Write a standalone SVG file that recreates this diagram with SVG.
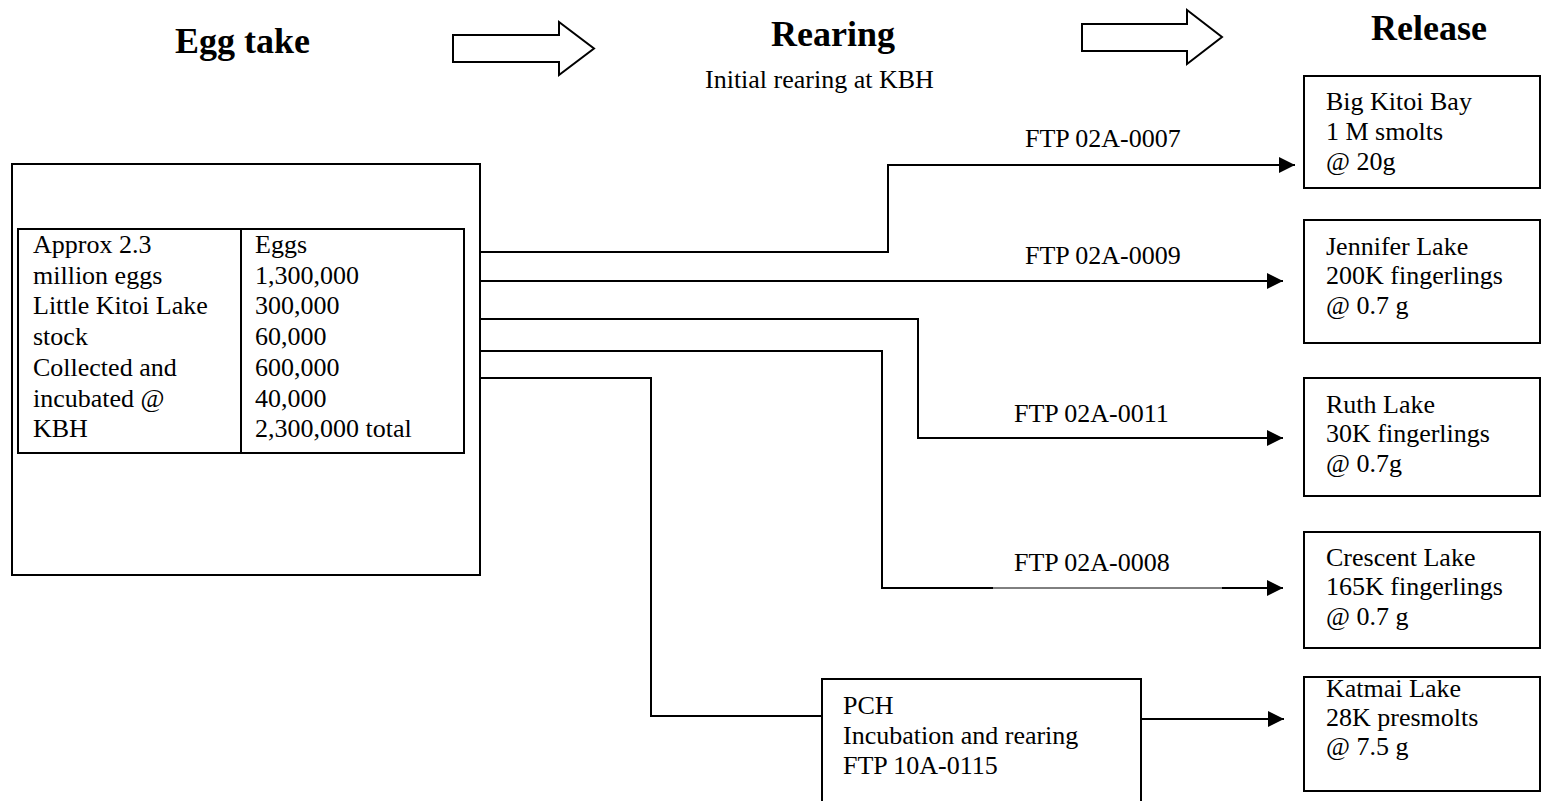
<svg xmlns="http://www.w3.org/2000/svg" width="1542" height="801" viewBox="0 0 1542 801">
<style>
text{font-family:"Liberation Serif","Times New Roman",serif;font-size:26px;fill:#000}
.h{font-weight:bold;font-size:36px}
.box{fill:#fff;stroke:#000;stroke-width:2}
.big{fill:#fff;stroke:#000;stroke-width:2}
.con{fill:none;stroke:#000;stroke-width:2}
.thin{fill:none;stroke:#000;stroke-width:1}
</style>
<defs>
<marker id="ah" markerUnits="userSpaceOnUse" markerWidth="16" markerHeight="16" refX="16" refY="8" orient="auto" viewBox="0 0 16 16">
<path d="M0,0 L16,8 L0,16 Z" fill="#000"/>
</marker>
</defs>
<rect width="1542" height="801" fill="#fff"/>
<g id="headers">
<text class="h" x="175" y="53">Egg take</text>
<text class="h" x="771" y="46">Rearing</text>
<text x="705" y="88">Initial rearing at KBH</text>
<text class="h" x="1371" y="40">Release</text>
<polygon class="big" points="453,35 559,35 559,22 594,48.5 559,75 559,62 453,62"/>
<polygon class="big" points="1082,24 1187,24 1187,10 1222,37 1187,64 1187,51 1082,51"/>
</g>
<g id="connectors">
<path class="con" d="M480,252 H888 V165 H1295" marker-end="url(#ah)"/>
<path class="con" d="M480,281 H1283" marker-end="url(#ah)"/>
<path class="con" d="M480,319 H918 V438 H1283" marker-end="url(#ah)"/>
<path class="con" d="M480,351 H882 V588 H993"/>
<path class="thin" d="M993,588 H1222"/>
<path class="con" d="M1222,588 H1283" marker-end="url(#ah)"/>
<path class="con" d="M480,378 H651 V716 H822"/>
<path class="con" d="M1141,719 H1284" marker-end="url(#ah)"/>
<text x="1025" y="147">FTP 02A-0007</text>
<text x="1025" y="264">FTP 02A-0009</text>
<text x="1014" y="422">FTP 02A-0011</text>
<text x="1014" y="571">FTP 02A-0008</text>
</g>
<g id="eggtake">
<rect class="box" x="12" y="164" width="468" height="411"/>
<rect class="box" x="18" y="229" width="446" height="224"/>
<line x1="241" y1="229" x2="241" y2="453" stroke="#000" stroke-width="2"/>
<text x="33" y="253">Approx 2.3</text>
<text x="33" y="284">million eggs</text>
<text x="33" y="314">Little Kitoi Lake</text>
<text x="33" y="345">stock</text>
<text x="33" y="376">Collected and</text>
<text x="33" y="407">incubated @</text>
<text x="33" y="437">KBH</text>
<text x="255" y="253">Eggs</text>
<text x="255" y="284">1,300,000</text>
<text x="255" y="314">300,000</text>
<text x="255" y="345">60,000</text>
<text x="255" y="376">600,000</text>
<text x="255" y="407">40,000</text>
<text x="255" y="437">2,300,000 total</text>
</g>
<g id="pch">
<rect class="box" x="822" y="679" width="319" height="140"/>
<text x="843" y="714">PCH</text>
<text x="843" y="744">Incubation and rearing</text>
<text x="843" y="774">FTP 10A-0115</text>
</g>
<g id="bigkitoi">
<rect class="box" x="1304" y="76" width="236" height="112"/>
<text x="1326" y="110">Big Kitoi Bay</text>
<text x="1326" y="140">1 M smolts</text>
<text x="1326" y="170">@ 20g</text>
</g>
<g id="jennifer">
<rect class="box" x="1304" y="220" width="236" height="123"/>
<text x="1326" y="255">Jennifer Lake</text>
<text x="1326" y="284">200K fingerlings</text>
<text x="1326" y="314">@ 0.7 g</text>
</g>
<g id="ruth">
<rect class="box" x="1304" y="378" width="236" height="118"/>
<text x="1326" y="413">Ruth Lake</text>
<text x="1326" y="442">30K fingerlings</text>
<text x="1326" y="472">@ 0.7g</text>
</g>
<g id="crescent">
<rect class="box" x="1304" y="532" width="236" height="116"/>
<text x="1326" y="566">Crescent Lake</text>
<text x="1326" y="595">165K fingerlings</text>
<text x="1326" y="625">@ 0.7 g</text>
</g>
<g id="katmai">
<rect class="box" x="1304" y="677" width="236" height="114"/>
<text x="1326" y="697">Katmai Lake</text>
<text x="1326" y="726">28K presmolts</text>
<text x="1326" y="755">@ 7.5 g</text>
</g>
</svg>
